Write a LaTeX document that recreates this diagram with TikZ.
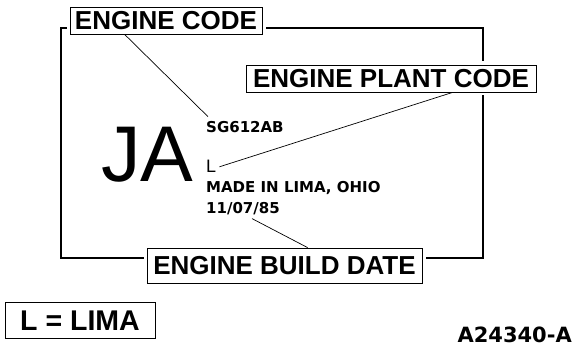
\documentclass[tikz,border=0pt]{standalone}
\usepackage{fontspec}
\setmainfont{Liberation Sans}
\newfontfamily\tagfont{DejaVu Sans}
\usetikzlibrary{positioning}

\begin{document}
\begin{tikzpicture}[x=1pt, y=-1pt,
  tagbox/.style={draw, line width=0.8pt, fill=white, inner sep=0pt,
    preaction={draw=white, line width=7pt},
    font=\fontsize{26}{28}\selectfont\bfseries, text height=18.6pt, text depth=0pt},
  plate/.style={anchor=base west, inner sep=0pt, font=\tagfont\fontsize{15}{17}\selectfont\bfseries},
  leader/.style={line width=0.7pt}]
  \useasboundingbox (0,0) rectangle (575,347);

  % rahmen des aufklebers
  \draw[line width=1.6pt] (61,28) rectangle (483,258);

  % beschriftungen
  \node[tagbox, minimum width=192pt, minimum height=27pt] (ecode) at (166,20.5) {ENGINE CODE};
  \node[tagbox, minimum width=290pt, minimum height=27pt] (pcode) at (391,78.5) {ENGINE PLANT CODE};
  \node[tagbox, minimum width=275pt, minimum height=35pt] (ebd) at (284.5,265.5) {ENGINE BUILD DATE};
  \node[tagbox, minimum width=150pt, minimum height=36pt, text height=20.4pt,
        font=\fontsize{28.5}{30}\selectfont\bfseries] (lima) at (80,320) {L = LIMA};

  % aufdruck
  \node[anchor=base west, inner sep=0pt, font=\fontsize{79}{80}\selectfont] (ja) at (101,182) {JA};
  \node[plate] (sg) at (206,133) {SG612AB};
  \node[anchor=base west, inner sep=0pt, font=\fontsize{18}{20}\selectfont] (plant) at (206,173) {L};
  \node[plate] (made) at (206,193) {MADE IN LIMA, OHIO};
  \node[plate] (date) at (206,214) {11/07/85};

  \node[anchor=base east, inner sep=0pt, font=\tagfont\fontsize{21}{23}\selectfont\bfseries] (fig) at (572,342) {A24340-A};

  % hinweislinien
  \draw[leader] ([xshift=55pt]ecode.south west) -- ([shift={(2pt,5pt)}]sg.north west);
  \draw[leader] ([xshift=207pt]pcode.south west) -- ([xshift=3pt]plant.east);
  \draw[leader] ([shift={(9pt,-3pt)}]date.south) -- ([xshift=161pt]ebd.north west);
\end{tikzpicture}
\end{document}
